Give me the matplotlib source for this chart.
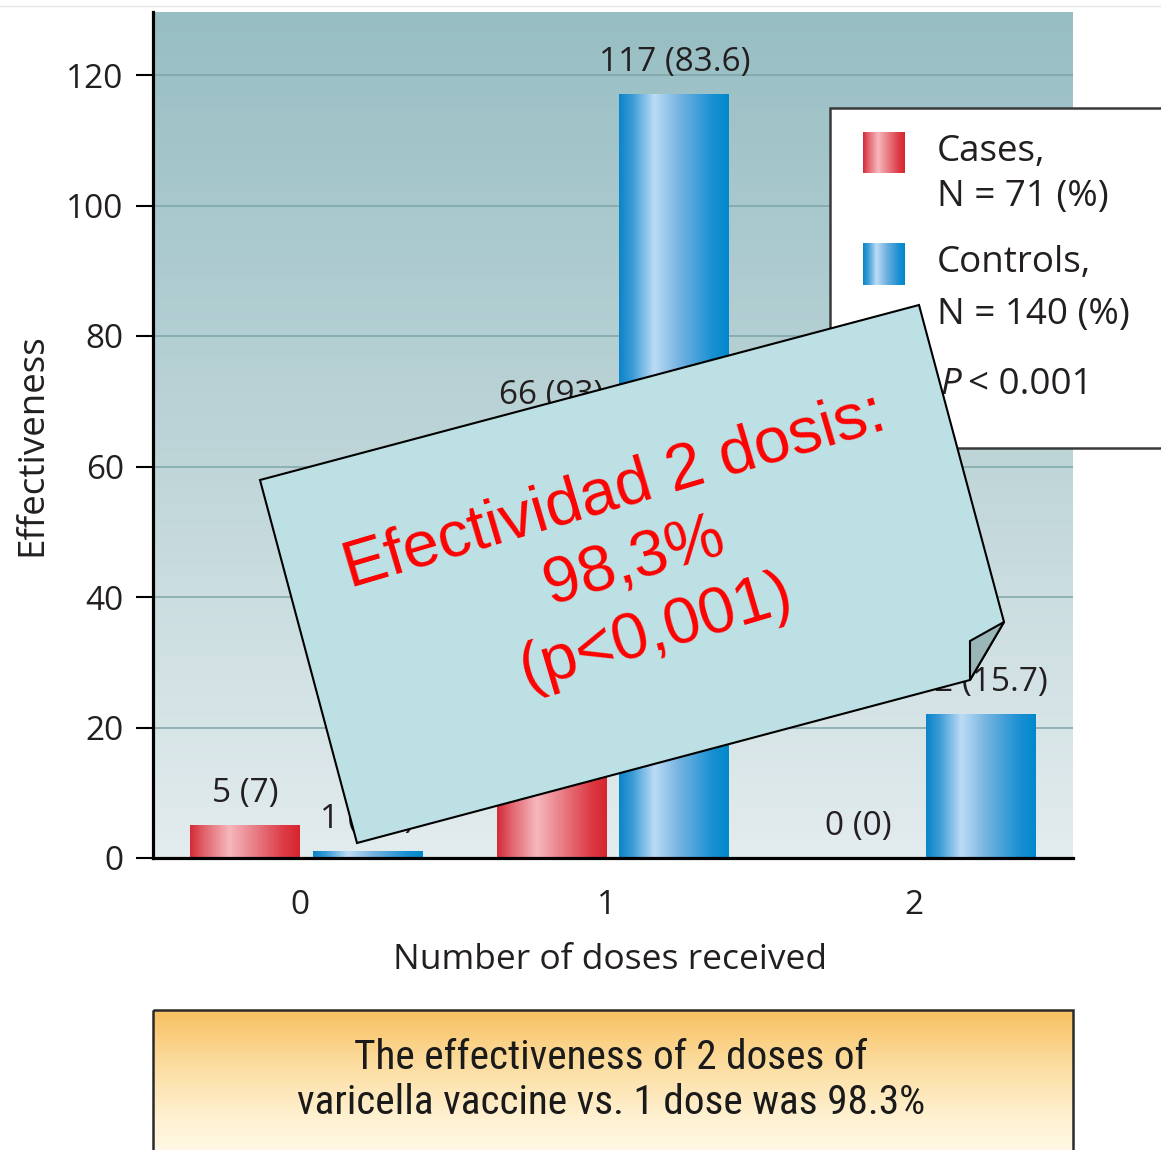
import numpy as np
import matplotlib
matplotlib.use("Agg")
import matplotlib.pyplot as plt
from matplotlib.patches import Polygon, Rectangle
from matplotlib import font_manager
from matplotlib.colors import to_rgb

# ---------------- data ----------------
doses = [0, 1, 2]
dose_labels = ["0", "1", "2"]
cases = [5, 66, 0]
cases_pct = ["7", "93", "0"]
controls = [1, 117, 22]
controls_pct = ["0.7", "83.6", "15.7"]
yticks = [0, 20, 40, 60, 80, 100, 120]
legend_labels = ["Cases,", "N = 71 (%)", "Controls,", "N = 140 (%)"]
p_label = "< 0.001"
note_text = "Efectividad 2 dosis:\n98,3%\n(p<0,001)"
box_text = "The effectiveness of 2 doses of\nvaricella vaccine vs. 1 dose was 98.3%"

# ---------------- fonts ----------------
fl = font_manager.fontManager.ttflist
names = {f.name for f in fl}
main_font = "Open Sans" if "Open Sans" in names else "DejaVu Sans"
note_font = "Liberation Sans" if "Liberation Sans" in names else "DejaVu Sans"

narrow_prop = None
for f in fl:
    fn = f.fname.lower()
    if ('narrow' in fn or 'condensed' in fn) and 'bold' not in fn and 'oblique' not in fn \
            and 'italic' not in fn:
        narrow_prop = font_manager.FontProperties(fname=f.fname)
        if 'liberation' in fn:
            break
if narrow_prop is not None:
    narrow_prop.set_size(29.7)
else:
    narrow_prop = font_manager.FontProperties(family=[main_font, 'DejaVu Sans'], size=26)

plt.rcParams['font.family'] = [main_font, 'DejaVu Sans']
TXT = '#231f20'

W, H = 1161, 1150
fig = plt.figure(figsize=(W / 100, H / 100), dpi=100)


def grad(stops, n=256):
    pos = np.array([s[0] for s in stops])
    cols = np.array([to_rgb(s[1]) for s in stops])
    t = np.linspace(0, 1, n)
    return np.stack([np.interp(t, pos, cols[:, k]) for k in range(3)], axis=1)


red_grad = grad([(0, '#d42a36'), (0.12, '#e0606a'), (0.36, '#f6b7bc'),
                 (0.6, '#e87c84'), (0.85, '#dc3c46'), (1.0, '#d8242f')])
blue_grad = grad([(0, '#0a84c8'), (0.12, '#3a9bd7'), (0.32, '#bddcf5'),
                  (0.55, '#74b3e0'), (0.85, '#1a90d3'), (1.0, '#0088cc')])

# ---------------- main axes ----------------
ymax = (858 - 12) / 6.525
ax = fig.add_axes([153 / W, 1 - 858 / H, (1073 - 153) / W, (858 - 12) / H])
ax.patch.set_alpha(0)

bg = grad([(0, '#97bec3'), (0.5, '#bcd4d7'), (1.0, '#e3ecee')])
ax.imshow(bg[:, None, :], extent=(0, 1, 0, 1), transform=ax.transAxes,
          aspect='auto', zorder=0, origin='upper')

x = np.array(doses, dtype=float)
bw = 0.358
off = 0.2
b1 = ax.bar(x - off, cases, bw, color='#d42a36', zorder=2)
b2 = ax.bar(x + off, controls, bw, color='#0a84c8', zorder=2)
for bars, g in ((b1, red_grad), (b2, blue_grad)):
    for r in bars:
        h = r.get_height()
        if h > 0:
            ax.imshow(g[None, :, :], extent=(r.get_x(), r.get_x() + r.get_width(), 0, h),
                      aspect='auto', zorder=3)

for bars, vals, pcts in ((b1, cases, cases_pct), (b2, controls, controls_pct)):
    for r, v, p in zip(bars, vals, pcts):
        ax.annotate(f"{v} ({p})", (r.get_x() + r.get_width() / 2, v),
                    xytext=(0, 23), textcoords='offset points',
                    ha='center', va='center', fontsize=24, color=TXT, zorder=4)

ax.set_xlim(-0.5, 2.5)
ax.set_ylim(0, ymax)
ax.set_yticks(yticks)
ax.set_xticks(x - 0.02, dose_labels)
ax.yaxis.grid(True, color='#7aa2a6', lw=1.3, alpha=0.8)
ax.set_axisbelow(True)
for s in ('top', 'right'):
    ax.spines[s].set_visible(False)
for s in ('left', 'bottom'):
    ax.spines[s].set_linewidth(2.3)
    ax.spines[s].set_color('black')
    ax.spines[s].set_zorder(5)
ax.tick_params(axis='y', length=12, width=1.5, pad=9, labelsize=24, labelcolor=TXT)
ax.tick_params(axis='x', length=0, pad=22, labelsize=24, labelcolor=TXT)

ax.set_xlabel("Number of doses received", fontsize=25.5, color=TXT)
ax.xaxis.set_label_coords((610 - 153) / 920, (858 - 960) / 846)
ax.xaxis.label.set_va('center')
ax.set_ylabel("Effectiveness", fontsize=26.5, color=TXT)
ax.yaxis.set_label_coords((32 - 153) / 920, (858 - 445) / 846)
ax.yaxis.label.set_va('center')

# ---------------- overlay (pixel coordinates) ----------------
ov = fig.add_axes([0, 0, 1, 1])
ov.patch.set_alpha(0)
ov.axis('off')

ov.plot([0, W], [6, 6], color='#e6e6e6', lw=1, zorder=1)

# legend
ov.add_patch(Rectangle((830, 108), 360, 340, fc='white', ec='#3a3a3a', lw=1.8, zorder=5))
ov.imshow(red_grad[None, :, :], extent=(863, 905, 173, 132), aspect='auto', zorder=6)
ov.imshow(blue_grad[None, :, :], extent=(863, 905, 285, 243), aspect='auto', zorder=6)
for lab, yy in zip(legend_labels, [152, 197, 263, 315]):
    ov.text(937, yy, lab, va='center', ha='left', fontsize=26.5, color=TXT, zorder=6)
ov.text(940, 385, "P", va='center', ha='left', fontsize=26.5, color=TXT,
        style='italic', zorder=6)
ov.text(968, 385, p_label, va='center', ha='left', fontsize=26.5, color=TXT, zorder=6)

# bottom box
box_g = grad([(0, '#f8c060'), (0.35, '#fcdc9e'), (0.7, '#fff0cf'), (1.0, '#fffaea')])
ov.imshow(box_g[:, None, :], extent=(153, 1073, 1160, 1010), aspect='auto',
          zorder=3, origin='upper')
ov.add_patch(Rectangle((153, 1010), 920, 160, fc='none', ec='#2a2a2a', lw=1.8, zorder=4))
ov.text(611, 1080, box_text, ha='center', va='center', fontproperties=narrow_prop,
        color='#1a1a1a', linespacing=1.2, zorder=5)

# sticky note
note = [(260, 480), (919, 305), (1004, 622), (970, 680), (357, 843)]
ov.add_patch(Polygon(note, closed=True, fc='#bce0e4', ec='black', lw=1.5, zorder=10))
ov.add_patch(Polygon([(1004, 622), (970, 641), (970, 680)], closed=True,
                     fc='#9ab6b7', ec='black', lw=1.5, zorder=11))
ov.text(635, 562, note_text, ha='center', va='center', multialignment='center',
        rotation=16.5, rotation_mode='anchor', fontsize=47, color='#ff0000',
        family=[note_font, 'DejaVu Sans'], linespacing=1.28, zorder=12)

ov.set_xlim(0, W)
ov.set_ylim(H, 0)

fig.savefig("out.png", dpi=100)
